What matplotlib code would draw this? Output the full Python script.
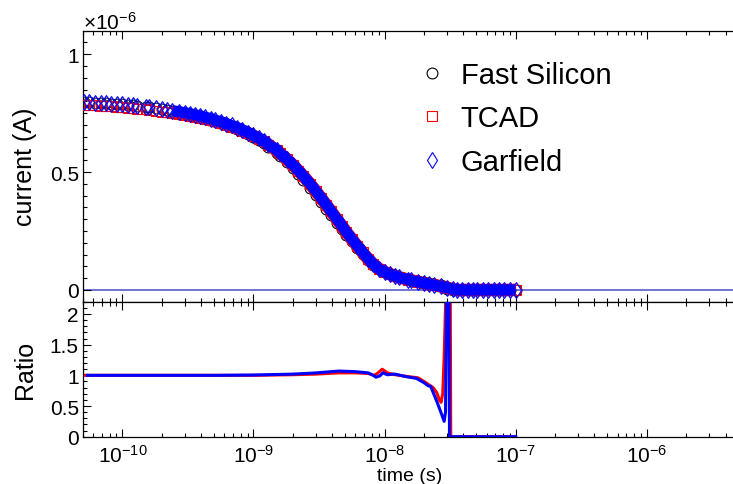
import matplotlib
matplotlib.use('Agg')
import matplotlib.pyplot as plt
from matplotlib.ticker import LogLocator, FixedLocator, MultipleLocator, FuncFormatter, NullFormatter

plt.rcParams['font.family'] = 'Liberation Sans'
plt.rcParams['mathtext.fontset'] = 'custom'
plt.rcParams['mathtext.rm'] = 'Liberation Sans'
plt.rcParams['mathtext.it'] = 'Liberation Sans:italic'
plt.rcParams['mathtext.bf'] = 'Liberation Sans:bold'

# time grid of the simulated signals (s)
time_s = [
    5.1e-11, 5.6e-11, 6.2e-11, 6.8e-11, 7.5e-11, 8.2e-11, 9.1e-11,
    1.0e-10, 1.1e-10, 1.2e-10, 1.3e-10, 1.5e-10, 1.6e-10, 1.8e-10, 2.0e-10, 2.2e-10, 2.4e-10, 2.7e-10, 3.0e-10,
    3.3e-10, 3.6e-10, 3.9e-10, 4.3e-10, 4.7e-10, 5.1e-10, 5.6e-10, 6.2e-10, 6.8e-10, 7.5e-10, 8.2e-10, 9.1e-10,
    1.0e-9, 1.1e-9, 1.2e-9, 1.3e-9, 1.5e-9, 1.6e-9, 1.8e-9, 2.0e-9, 2.2e-9, 2.4e-9, 2.7e-9, 3.0e-9,
    3.3e-9, 3.6e-9, 3.9e-9, 4.3e-9, 4.7e-9, 5.1e-9, 5.6e-9, 6.2e-9, 6.8e-9, 7.5e-9, 8.2e-9, 9.1e-9,
    1.0e-8, 1.1e-8, 1.2e-8, 1.3e-8, 1.5e-8, 1.6e-8, 1.8e-8, 2.0e-8, 2.2e-8, 2.4e-8, 2.7e-8, 3.0e-8,
    3.3e-8, 3.6e-8, 3.9e-8, 4.3e-8, 4.7e-8, 5.1e-8, 5.6e-8, 6.2e-8, 6.8e-8, 7.5e-8, 8.2e-8, 9.1e-8,
    1.0e-7,
]

# currents in units of 1e-6 A
fast_silicon = [
    0.797, 0.796, 0.795, 0.794, 0.793, 0.791, 0.789,
    0.787, 0.785, 0.783, 0.780, 0.777, 0.775, 0.771, 0.767, 0.764, 0.761, 0.756, 0.751,
    0.746, 0.742, 0.738, 0.731, 0.725, 0.718, 0.711, 0.702, 0.693, 0.684, 0.674, 0.661,
    0.649, 0.636, 0.622, 0.608, 0.582, 0.568, 0.542, 0.517, 0.492, 0.468, 0.434, 0.401,
    0.371, 0.343, 0.317, 0.286, 0.259, 0.233, 0.206, 0.177, 0.152, 0.127, 0.107, 0.089,
    0.075, 0.067, 0.060, 0.054, 0.045, 0.041, 0.036, 0.032, 0.028, 0.025, 0.020, 0.002,
    0.0, 0.0, 0.0, 0.0, 0.0, 0.0, 0.0, 0.0, 0.0, 0.0, 0.0, 0.0,
    0.0,
]
tcad = [
    0.785, 0.784, 0.783, 0.782, 0.781, 0.779, 0.777,
    0.775, 0.773, 0.771, 0.769, 0.766, 0.764, 0.760, 0.757, 0.754, 0.751, 0.747, 0.743,
    0.739, 0.735, 0.731, 0.726, 0.720, 0.715, 0.708, 0.701, 0.693, 0.685, 0.676, 0.665,
    0.654, 0.642, 0.630, 0.617, 0.592, 0.579, 0.554, 0.530, 0.506, 0.483, 0.450, 0.418,
    0.388, 0.360, 0.334, 0.302, 0.273, 0.246, 0.217, 0.186, 0.159, 0.131, 0.109, 0.089,
    0.076, 0.067, 0.060, 0.053, 0.044, 0.040, 0.034, 0.029, 0.024, 0.020, 0.015, 0.010,
    0.003, 0.0, 0.0, 0.0, 0.0, 0.0, 0.0, 0.0, 0.0, 0.0, 0.0, 0.0,
    0.0,
]
garfield = [
    0.797, 0.796, 0.795, 0.794, 0.793, 0.791, 0.789,
    0.787, 0.785, 0.783, 0.780, 0.777, 0.775, 0.771, 0.767, 0.764, 0.761, 0.756, 0.752,
    0.747, 0.743, 0.739, 0.733, 0.727, 0.721, 0.714, 0.706, 0.698, 0.689, 0.680, 0.668,
    0.656, 0.644, 0.631, 0.618, 0.593, 0.580, 0.555, 0.531, 0.507, 0.484, 0.451, 0.419,
    0.389, 0.361, 0.335, 0.303, 0.274, 0.247, 0.218, 0.187, 0.160, 0.132, 0.110, 0.088,
    0.075, 0.066, 0.059, 0.053, 0.044, 0.040, 0.034, 0.029, 0.024, 0.020, 0.015, 0.010,
    0.003, 0.0, 0.0, 0.0, 0.0, 0.0, 0.0, 0.0, 0.0, 0.0, 0.0, 0.0,
    0.0,
]

# ratios to Fast Silicon
ratio_time_tcad = [5.0e-11, 1e-10, 5e-10, 1e-9, 2e-9, 3e-9, 4.5e-9, 6e-9, 7.5e-9, 8.3e-9, 8.8e-9,
                   9.6e-9, 1.05e-8, 1.2e-8, 1.5e-8, 1.8e-8, 2.0e-8, 2.2e-8, 2.35e-8, 2.5e-8, 2.62e-8,
                   2.7e-8, 2.78e-8, 2.85e-8, 2.95e-8, 3.0e-8, 3.17e-8, 3.2e-8, 1.0e-7]
ratio_tcad = [1.0, 1.0, 1.0, 1.0, 1.01, 1.02, 1.04, 1.04, 1.03, 1.0, 1.03,
              1.10, 1.04, 1.01, 0.98, 0.96, 0.90, 0.84, 0.80, 0.72, 0.60,
              0.56, 0.70, 1.3, 2.5, 2.5, 2.5, 0.0, 0.0]
ratio_time_garf = [5.4e-11, 1e-10, 5e-10, 1e-9, 2e-9, 3e-9, 4.5e-9, 6e-9, 7.5e-9, 8.2e-9, 8.6e-9,
                   9.2e-9, 9.7e-9, 1.05e-8, 1.2e-8, 1.45e-8, 1.75e-8, 2.0e-8, 2.15e-8, 2.25e-8, 2.35e-8,
                   2.5e-8, 2.7e-8, 2.85e-8, 2.92e-8, 2.98e-8, 3.1e-8, 3.13e-8, 1.0e-7]
ratio_garf = [1.0, 1.0, 1.0, 1.005, 1.02, 1.04, 1.07, 1.06, 1.04, 1.0, 0.97,
              0.99, 1.04, 1.01, 1.02, 0.98, 0.95, 0.88, 0.83, 0.82, 0.72,
              0.58, 0.39, 0.25, 0.40, 2.5, 2.5, 0.0, 0.0]

decades = [1e-10, 1e-9, 1e-8, 1e-7, 1e-6]

W, H = 733, 485
fig = plt.figure(figsize=(W / 100, H / 100), dpi=100)
left = 83 / W
width = (765 - 83) / W
ax1 = fig.add_axes([left, 1 - 302.7 / H, width, (302.7 - 31.7) / H])
ax2 = fig.add_axes([left, 1 - 437.7 / H, width, (437.7 - 302.7) / H], sharex=ax1)

# top: current
ax1.axhline(0, color='#7272d4', lw=1.4, zorder=1)
start = 16  # band looks solid from here on
h_fs, = ax1.plot(time_s, fast_silicon, ls='none', marker='o', ms=7.8, mfc='none',
                 mec='black', mew=0.8, zorder=2, label='Fast Silicon')
ax1.plot(time_s[start:], tcad[start:], color='red', lw=9.0, zorder=3, solid_capstyle='butt')
h_tc, = ax1.plot(time_s, tcad, ls='none', marker='s', ms=7.8, mfc='none',
                 mec='red', mew=0.8, zorder=3, label='TCAD')
ax1.plot(time_s[start:], garfield[start:], color='blue', lw=8.0, zorder=4, solid_capstyle='butt')
h_gf, = ax1.plot(time_s, garfield, ls='none', marker='d', ms=8.0, mfc='none',
                 mec='blue', mew=0.8, zorder=4, label='Garfield')

ax1.set_xscale('log')
ax1.set_xlim(5e-11, 8e-6)
ax1.set_ylim(-0.05, 1.1)
ax1.yaxis.set_major_locator(MultipleLocator(0.5))
ax1.yaxis.set_minor_locator(MultipleLocator(0.05))
ax1.yaxis.set_major_formatter(FuncFormatter(lambda v, p: '%g' % round(v, 3)))

# bottom: ratio
ax2.plot(ratio_time_tcad, ratio_tcad, color='red', lw=2.2, zorder=2)
ax2.plot(ratio_time_garf, ratio_garf, color='blue', lw=2.2, zorder=3)
ax2.set_ylim(0, 2.2)
ax2.yaxis.set_major_locator(MultipleLocator(0.5))
ax2.yaxis.set_minor_locator(MultipleLocator(0.1))
ax2.yaxis.set_major_formatter(FuncFormatter(lambda v, p: '%g' % round(v, 3)))

for ax in (ax1, ax2):
    ax.xaxis.set_major_locator(FixedLocator(decades))
    ax.xaxis.set_minor_locator(LogLocator(base=10, subs=range(2, 10), numticks=20))
    ax.xaxis.set_minor_formatter(NullFormatter())
    ax.tick_params(which='both', direction='in', top=True, bottom=True, left=True, right=True,
                   width=0.8, labelsize=15, pad=3)
    ax.tick_params(which='major', length=5.5)
    ax.tick_params(which='minor', length=2.8)
    for s in ax.spines.values():
        s.set_linewidth(0.9)
ax1.tick_params(labelbottom=False)
ax2.tick_params(axis='x', pad=5.5)

fig.text(left, 1 - 29.5 / H, r'$\times10^{-6}$', fontsize=15, ha='left', va='baseline')
fig.text(25 / W, 1 - 167 / H, 'current (A)', fontsize=18, rotation=90, ha='center', va='center')
fig.text(25 / W, 1 - 370 / H, 'Ratio', fontsize=18, rotation=90, ha='center', va='center')
fig.text(410 / W, 1 - 477 / H, 'time (s)', fontsize=14, ha='center', va='center')

ax1.legend(handles=[h_fs, h_tc, h_gf], loc='upper left', bbox_to_anchor=(417 / W, 1 - 62 / H),
           bbox_transform=fig.transFigure, frameon=False, fontsize=21, handlelength=1.0,
           handletextpad=0.5, labelspacing=0.53, borderpad=0, borderaxespad=0)

fig.savefig('out.png', dpi=100)
